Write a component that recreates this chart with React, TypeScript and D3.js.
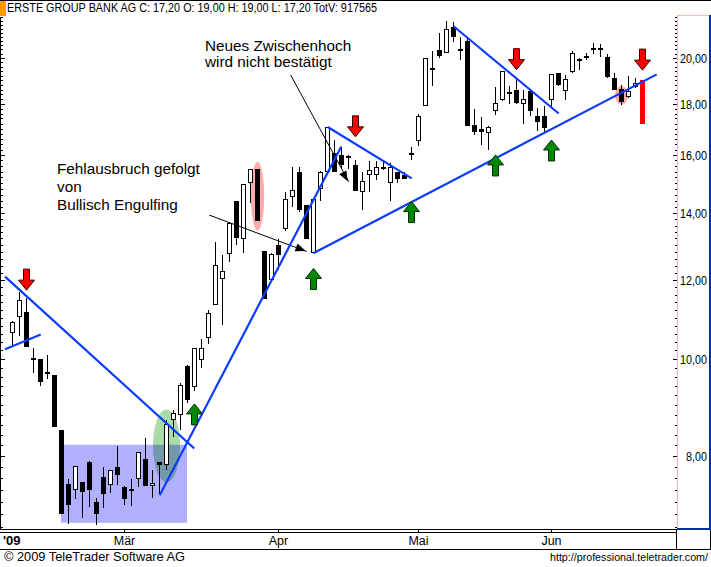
import * as d3 from "d3";

const W = 711;
const H = 567;

// daily candles (the last one is drawn red)
const opens = [10.61,11.01,11.14,10.0,10.0,9.68,9.64,8.49,7.5,7.4,7.53,7.89,7.19,7.62,7.49,7.8,7.45,7.39,7.58,7.95,7.46,7.89,7.84,8.7,8.8,9.84,9.38,9.99,10.49,11.32,12.02,12.73,14.38,13.17,15.01,15.48,12.83,12.0,13.0,13.5,14.51,15.38,14.25,12.78,14.78,15.39,16.06,15.99,15.93,15.62,14.69,15.27,15.27,15.51,14.99,15.38,15.27,16.05,16.51,17.92,19.49,20.36,20.24,21.46,20.37,20.78,17.14,16.99,16.81,17.71,18.16,18.46,18.58,17.97,18.54,17.52,17.52,18.16,19.3,18.53,19.36,19.89,20.05,20.4,20.43,20.03,19.08,18.64,18.27,18.71,19.0];
const highs = [10.92,11.67,11.51,10.27,10.0,10.09,9.64,8.49,7.59,7.82,7.54,7.91,7.26,7.8,7.75,8.18,7.47,7.59,8.08,8.34,7.75,7.89,8.69,8.89,9.46,9.86,10.25,10.47,11.2,13.08,12.7,13.7,14.38,14.98,15.48,15.48,12.83,12.77,13.17,14.7,15.57,15.57,14.25,14.44,15.43,17.06,16.56,16.31,15.99,15.81,15.39,15.78,15.78,15.81,15.69,15.39,15.39,16.28,17.6,19.99,20.31,21.17,21.78,21.74,20.97,20.99,17.77,17.47,17.1,18.7,19.42,18.75,19.08,18.58,18.58,17.81,17.9,19.26,19.33,19.24,20.34,19.99,20.22,20.72,20.66,20.18,19.3,18.81,19.19,19.08,19.0];
const lows = [10.32,10.55,10.29,9.69,9.4,9.55,8.56,7.0,6.84,7.25,6.93,7.12,6.83,7.1,7.34,7.49,7.15,7.13,7.45,7.46,7.27,7.31,7.75,8.36,8.49,9.04,9.3,9.8,10.35,11.32,10.82,12.51,13.0,12.76,14.31,13.74,11.49,12.0,12.28,13.44,14.2,14.02,13.19,12.78,14.4,15.39,15.39,15.51,15.49,14.72,14.08,14.69,15.1,15.45,14.4,14.99,15.13,15.81,16.34,17.92,18.75,20.01,20.24,20.76,19.91,17.11,16.75,16.37,16.18,17.54,18.13,17.99,17.99,17.18,17.5,16.92,16.85,17.88,18.75,18.16,19.3,19.46,19.91,20.18,20.06,19.11,18.58,17.96,18.25,18.67,17.2];
const closes = [10.9,11.45,10.29,10.0,9.49,9.68,8.56,7.0,7.15,7.82,7.37,7.39,7.0,7.33,7.74,7.66,7.25,7.39,8.07,7.46,7.51,7.84,8.62,8.84,9.41,9.11,10.25,10.25,11.12,12.41,12.24,13.67,13.22,14.98,15.48,13.74,11.49,12.73,12.7,14.46,14.75,14.08,13.19,14.44,15.38,17.06,15.39,15.63,15.93,14.72,15.08,15.46,15.57,15.51,15.57,15.12,15.14,16.05,17.52,19.99,19.49,20.11,21.36,20.99,20.37,17.11,16.88,16.88,17.06,18.02,19.4,18.46,18.05,18.19,17.71,17.27,17.04,19.26,18.8,19.04,20.24,19.89,20.05,20.4,20.43,19.15,18.58,18.09,18.53,18.9,17.2];

const priceLabels = [8, 10, 12, 14, 16, 18, 20];
const months = [
  { name: "Mär", index: 16 },
  { name: "Apr", index: 38 },
  { name: "Mai", index: 58 },
  { name: "Jun", index: 77 },
];

// [index, price, index, price]
const blueLines = [
  [-1.07, 12.09, 25.97, 8.14],
  [-1.07, 10.23, 4.03, 10.58],
  [21.03, 7.31, 46.97, 16.31],
  [42.97, 12.76, 92.03, 19.26],
  [45.03, 17.06, 57.03, 15.16],
  [62.97, 21.53, 78.03, 17.6],
];
const pointerLines = [
  [28.11, 13.93, 42.03, 12.81],
  [39.74, 19.23, 48.03, 15.04],
];
// [index, price at the arrow tip]
const redArrows = [[2, 11.72], [49, 16.68], [72, 19.47], [90, 19.45]];
const greenArrows = [[26, 9.02], [43, 12.32], [57, 14.37], [69, 16.0], [77, 16.56]];
// [index, half width in candles, price top, price bottom, colour]
const ellipses = [
  { i: 22, rx: 1.93, top: 8.91, bottom: 7.53, fill: "#aadcaa" },
  { i: 35, rx: 0.95, top: 15.75, bottom: 13.44, fill: "#ffaaaa" },
  { i: 87, rx: 0.93, top: 18.75, bottom: 17.96, fill: "#ffaaaa" },
];
const box = { from: 6.93, to: 24.93, top: 8.21, bottom: 6.86 };

const x = d3.scaleLinear().domain([0, 90]).range([12.5, 642.5]);
const y = d3.scaleLog().domain([8, 20]).range([456, 58]);

const minorTicks = d3.range(34, 111).map(d => d / 5);

const arrowPath = (px: number, py: number, dir: number) => {
  const p = d3.path();
  p.moveTo(px, py);
  p.lineTo(px + 8, py - dir * 10);
  p.lineTo(px + 3, py - dir * 10);
  p.lineTo(px + 3, py - dir * 21);
  p.lineTo(px - 3, py - dir * 21);
  p.lineTo(px - 3, py - dir * 10);
  p.lineTo(px - 8, py - dir * 10);
  p.closePath();
  return p.toString();
};

const pointerHead = (l: number[]) => {
  const x1 = x(l[0]), y1 = y(l[1]), x2 = x(l[2]), y2 = y(l[3]);
  const a = Math.atan2(y2 - y1, x2 - x1);
  const back = d3.path();
  const tip = [x2 - 1, y2 - 0.5];
  back.moveTo(tip[0], tip[1]);
  back.lineTo(tip[0] - 11 * Math.cos(a - 0.38), tip[1] - 11 * Math.sin(a - 0.38));
  back.lineTo(tip[0] - 11 * Math.cos(a + 0.38), tip[1] - 11 * Math.sin(a + 0.38));
  back.closePath();
  return back.toString();
};

export default function App() {
  const font = "'Liberation Sans', Arial, sans-serif";
  return (
    <svg
      width={W}
      height={H}
      viewBox={`0 0 ${W} ${H}`}
      style={{ position: "fixed", left: 0, top: 0, display: "block", background: "#fff" }}
      fontFamily={font}
    >
      {/* shaded zones */}
      <g style={{ isolation: "isolate" }}>
        <rect
          x={x(box.from)}
          width={x(box.to) - x(box.from)}
          y={y(box.top)}
          height={y(box.bottom) - y(box.top)}
          fill="#b0b0ff"
        />
        {ellipses.map((e, i) => (
          <ellipse
            key={i}
            cx={x(e.i)}
            cy={(y(e.top) + y(e.bottom)) / 2}
            rx={x(e.rx) - x(0)}
            ry={(y(e.bottom) - y(e.top)) / 2}
            fill={e.fill}
            style={{ mixBlendMode: "multiply" }}
          />
        ))}
      </g>

      {/* candles */}
      <g shapeRendering="crispEdges">
        {opens.map((o, i) => {
          const c = closes[i];
          const px = Math.floor(x(i));
          const top = Math.round(y(Math.max(o, c)));
          const bot = Math.round(y(Math.min(o, c)));
          const last = i === opens.length - 1;
          const wick = (
            <rect x={px} width={1} y={Math.round(y(highs[i]))} height={Math.round(y(lows[i])) - Math.round(y(highs[i]))} fill="#000" />
          );
          if (last) return <rect key={i} x={px - 2} width={5} y={top} height={bot - top} fill="#ff0000" />;
          if (o === c)
            return (
              <g key={i}>
                {wick}
                <rect x={px - 2} width={5} y={top - 1} height={2} fill="#000" />
              </g>
            );
          return (
            <g key={i}>
              {wick}
              {c > o ? (
                <rect x={px - 1.5} width={4} y={top + 0.5} height={bot - top - 1} fill="#fff" stroke="#000" strokeWidth={1} />
              ) : (
                <rect x={px - 2} width={5} y={top} height={bot - top} fill="#000" />
              )}
            </g>
          );
        })}
      </g>

      {/* thin pointers */}
      {pointerLines.map((l, i) => (
        <g key={i}>
          <line x1={x(l[0])} y1={y(l[1])} x2={x(l[2])} y2={y(l[3])} stroke="#000" strokeWidth={1} />
          <path d={pointerHead(l)} fill="#000" />
        </g>
      ))}

      {/* trend lines */}
      {blueLines.map((l, i) => (
        <line key={i} x1={x(l[0])} y1={y(l[1])} x2={x(l[2])} y2={y(l[3])} stroke="#0a3cff" strokeWidth={2.2} />
      ))}

      {/* signal arrows */}
      {redArrows.map((a, i) => (
        <path key={i} d={arrowPath(x(a[0]), y(a[1]), 1)} fill="#ff0000" stroke="#300000" strokeWidth={1} />
      ))}
      {greenArrows.map((a, i) => (
        <path key={i} d={arrowPath(x(a[0]), y(a[1]), -1)} fill="#008800" stroke="#002800" strokeWidth={1} />
      ))}

      {/* notes */}
      <g fontSize={15.3} fill="#000">
        <text x={205} y={51}>Neues Zwischenhoch</text>
        <text x={205} y={67}>wird nicht bestätigt</text>
        <text x={57} y={174}>Fehlausbruch gefolgt</text>
        <text x={57} y={192}>von</text>
        <text x={57} y={210}>Bullisch Engulfing</text>
      </g>

      {/* title */}
      <rect x={0} y={0} width={6} height={16} fill="#ff9900" />
      <text x={7} y={12} fontSize={12} fill="#000" textLength={370} lengthAdjust="spacingAndGlyphs">
        ERSTE GROUP BANK AG C: 17,20 O: 19,00 H: 19,00 L: 17,20 TotV: 917565
      </text>

      {/* frame */}
      <g shapeRendering="crispEdges">
        <rect x={0} y={0} width={W} height={1} fill="#000" />
        <rect x={0} y={17} width={1} height={512} fill="#000" />
        <rect x={0} y={529} width={677} height={1} fill="#000" />
        <rect x={0} y={532} width={677} height={1} fill="#000" />
        <rect x={0} y={549} width={W} height={1} fill="#000" />
        <rect x={676} y={529} width={1} height={20} fill="#000" />
        <rect x={710} y={529} width={1} height={20} fill="#000" />
        <rect x={677} y={15} width={1} height={513} fill="#ffcc44" />
        <rect x={677} y={15} width={33} height={1} fill="#ffcc44" />
        <rect x={677} y={528} width={33} height={2} fill="#003399" />
        <rect x={709} y={15} width={2} height={515} fill="#003399" />
        {minorTicks.map(d => (
          <g key={d}>
            <rect x={0} y={Math.round(y(d))} width={3} height={1} fill="#000" />
            <rect x={675} y={Math.round(y(d))} width={2} height={1} fill="#000" />
          </g>
        ))}
        {priceLabels.map(d => (
          <g key={d}>
            <rect x={0} y={Math.round(y(d))} width={5} height={1} fill="#000" />
            <rect x={673} y={Math.round(y(d))} width={4} height={1} fill="#000" />
          </g>
        ))}
        {months.map(m => (
          <rect key={m.name} x={Math.floor(x(m.index))} y={530} width={1} height={2} fill="#000" />
        ))}
      </g>

      {/* price labels */}
      <g fontSize={12} fill="#000" textAnchor="end">
        {priceLabels.map(d => (
          <text key={d} x={707} y={y(d) + 5} textLength={d < 10 ? 21 : 27} lengthAdjust="spacingAndGlyphs">
            {d3.format(".2f")(d).replace(".", ",")}
          </text>
        ))}
      </g>

      {/* time labels */}
      <text x={3} y={545} fontSize={13} fontWeight="bold" fill="#000">'09</text>
      <g fontSize={12.5} fill="#000" textAnchor="middle">
        {months.map(m => (
          <text key={m.name} x={x(m.index)} y={545}>{m.name}</text>
        ))}
      </g>

      {/* footer */}
      <text x={4} y={561} fontSize={13} fill="#000" textLength={181} lengthAdjust="spacingAndGlyphs">© 2009 TeleTrader Software AG</text>
      <text x={708} y={561} fontSize={10.7} fill="#000" textAnchor="end">http://professional.teletrader.com/</text>
    </svg>
  );
}
